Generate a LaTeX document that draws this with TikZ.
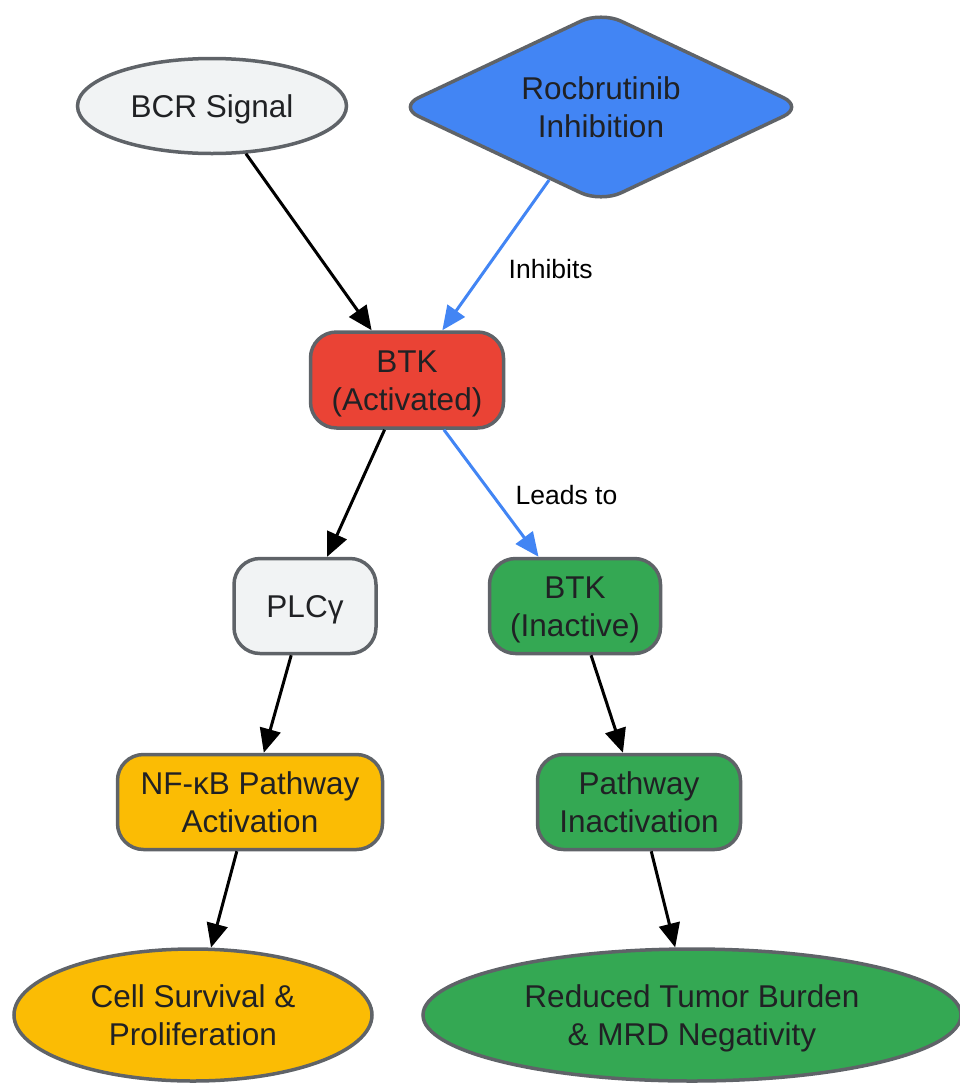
\documentclass[tikz,border=0pt]{standalone}
\usepackage{fontspec}
\setmainfont{Liberation Sans}
\usetikzlibrary{shapes.geometric,arrows.meta}
\definecolor{gfill}{HTML}{F1F3F4}
\definecolor{gborder}{HTML}{5F6368}
\definecolor{gblue}{HTML}{4285F4}
\definecolor{gred}{HTML}{EA4335}
\definecolor{ggreen}{HTML}{34A853}
\definecolor{gyellow}{HTML}{FBBC04}
\definecolor{gtext}{HTML}{202124}
\newcommand\mytop{\rule{0pt}{30pt}}
\newcommand\mybot{\rule[-7pt]{0pt}{7pt}}
\tikzset{
  base/.style={draw=gborder, line width=3.5pt, text=gtext, align=center,
    font=\fontsize{31.5}{38}\selectfont, inner sep=0pt},
  oval/.style={base, ellipse},
  rbox/.style={base, rectangle, rounded corners=26pt},
  dia/.style={base, diamond, rounded corners=22pt},
  conn/.style={line width=3pt, -{Triangle[length=24pt,width=21pt]}},
  bconn/.style={conn, draw=gblue, -{Triangle[length=24pt,width=21pt,fill=gblue]}},
  lbl/.style={font=\fontsize{26.5}{30}\selectfont, text=black, inner sep=2pt, anchor=west}
}
\begin{document}
\begin{tikzpicture}[x=1pt,y=-1pt]
\useasboundingbox (0,0) rectangle (960,1085);
\node[oval, fill=gfill, minimum width=269, minimum height=95] (bcr) at (212,106) {\mytop BCR Signal\mybot};
\node[dia, fill=gblue, minimum width=406, minimum height=192, aspect=2.1] (roc) at (601,107) {\mytop Rocbrutinib\\Inhibition\mybot};
\node[rbox, fill=gred, minimum width=193, minimum height=96] (btka) at (407,380) {\mytop BTK\\(Activated)\mybot};
\node[rbox, fill=gfill, minimum width=142, minimum height=95] (plc) at (305,606) {\mytop PLCγ\mybot};
\node[rbox, fill=ggreen, minimum width=171, minimum height=95] (btki) at (575,606) {\mytop BTK\\(Inactive)\mybot};
\node[rbox, fill=gyellow, minimum width=265, minimum height=95] (nfkb) at (250,802) {\mytop NF-κB Pathway\\Activation\mybot};
\node[rbox, fill=ggreen, minimum width=203, minimum height=95] (pin) at (639,802) {\mytop Pathway\\Inactivation\mybot};
\node[oval, fill=gyellow, minimum width=358, minimum height=132] (cell) at (193,1015) {\mytop Cell Survival \&\\Proliferation\mybot};
\node[oval, fill=ggreen, minimum width=538, minimum height=132] (red) at (692,1015) {\mytop Reduced Tumor Burden\\\& MRD Negativity\mybot};
\draw[conn] (bcr) -- (btka);
\draw[bconn] (roc) -- node[lbl, pos=0.58, xshift=18, yshift=-2] {Inhibits} (btka);
\draw[conn] (btka) -- (plc);
\draw[bconn] (btka) -- node[lbl, pos=0.51, xshift=20] {Leads to} (btki);
\draw[conn] (plc) -- (nfkb);
\draw[conn] (btki) -- (pin);
\draw[conn] (nfkb) -- (cell);
\draw[conn] (pin) -- (red);
\end{tikzpicture}
\end{document}
